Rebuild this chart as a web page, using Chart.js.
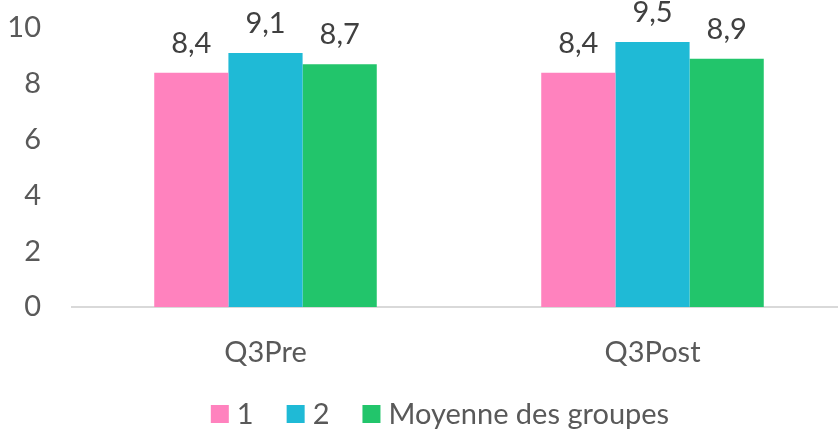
<!DOCTYPE html>
<html><head><meta charset="utf-8">
<script src="https://cdn.jsdelivr.net/npm/chart.js@4/dist/chart.umd.min.js"></script>
<style>
html,body{margin:0;padding:0;overflow:hidden;background:#fff;}
#wrap{position:relative;width:846px;height:433px;}
</style></head><body>
<div id="wrap"><canvas id="c"></canvas></div>
<script>
const categories = ["Q3Pre", "Q3Post"];
const seriesNames = ["1", "2", "Moyenne des groupes"];
const series1 = [8.4, 8.4];
const series2 = [9.1, 9.5];
const seriesMean = [8.7, 8.9];
const yTicks = [0, 2, 4, 6, 8, 10];
const colors = ["#FF82BE", "#1FBAD6", "#22C56B"];

const FONT = "Lato";
const FSIZE = 29;

const valueLabels = {
  id: 'valueLabels',
  afterDatasetsDraw(chart) {
    const ctx = chart.ctx;
    ctx.save();
    ctx.font = `${FSIZE}px ${FONT}`;
    ctx.fillStyle = '#404040';
    ctx.textAlign = 'center';
    ctx.textBaseline = 'alphabetic';
    chart.data.datasets.forEach((ds, i) => {
      chart.getDatasetMeta(i).data.forEach((bar, j) => {
        ctx.fillText(ds.data[j].toFixed(1).replace('.', ','), bar.x, bar.y - 20);
      });
    });
    ctx.restore();
  }
};

const customLegend = {
  id: 'customLegend',
  afterDraw(chart) {
    const ctx = chart.ctx;
    ctx.save();
    ctx.font = `${FSIZE}px ${FONT}`;
    ctx.textBaseline = 'middle';
    ctx.textAlign = 'left';
    const box = 18, gapText = 8, gapItem = 33;
    const items = chart.data.datasets.map(ds => ({ text: ds.label, color: ds.backgroundColor, w: ctx.measureText(ds.label).width }));
    const total = items.reduce((a, it) => a + box + gapText + it.w, 0) + gapItem * (items.length - 1);
    let x = 440 - total / 2;
    const cy = 414;
    items.forEach(it => {
      ctx.fillStyle = it.color;
      ctx.fillRect(x, cy - box / 2, box, box);
      x += box + gapText;
      ctx.fillStyle = '#595959';
      ctx.fillText(it.text, x, cy + 1);
      x += it.w + gapItem;
    });
    ctx.restore();
  }
};

new Chart(document.getElementById('c'), {
  type: 'bar',
  data: {
    labels: categories,
    datasets: [series1, series2, seriesMean].map((d, i) => ({
      label: seriesNames[i], data: d, backgroundColor: colors[i], borderWidth: 0
    }))
  },
  options: {
    responsive: true, maintainAspectRatio: false, animation: false,
    layout: { padding: { top: 28, left: 0, right: 0, bottom: 0 } },
    datasets: { bar: { barPercentage: 1, categoryPercentage: 0.575 } },
    plugins: {
      tooltip: { enabled: false },
      legend: { display: false }
    },
    scales: {
      x: {
        grid: { display: false, drawTicks: false },
        border: { display: true, color: '#D9D9D9', width: 2 },
        ticks: { color: '#595959', font: { family: FONT, size: FSIZE }, padding: 28 },
        afterFit(s) { s.height = 126; s.paddingLeft = 0; s.paddingRight = 0; }
      },
      y: {
        min: 0, max: 10,
        afterBuildTicks(s) { s.ticks = yTicks.map(v => ({ value: v })); },
        grid: { display: false, drawTicks: false },
        border: { display: false },
        ticks: { color: '#595959', font: { family: FONT, size: FSIZE }, padding: 31 },
        afterFit(s) { s.width = 72; s.paddingTop = 0; s.paddingBottom = 0; }
      }
    }
  },
  plugins: [valueLabels, customLegend]
});
</script>
</body></html>
